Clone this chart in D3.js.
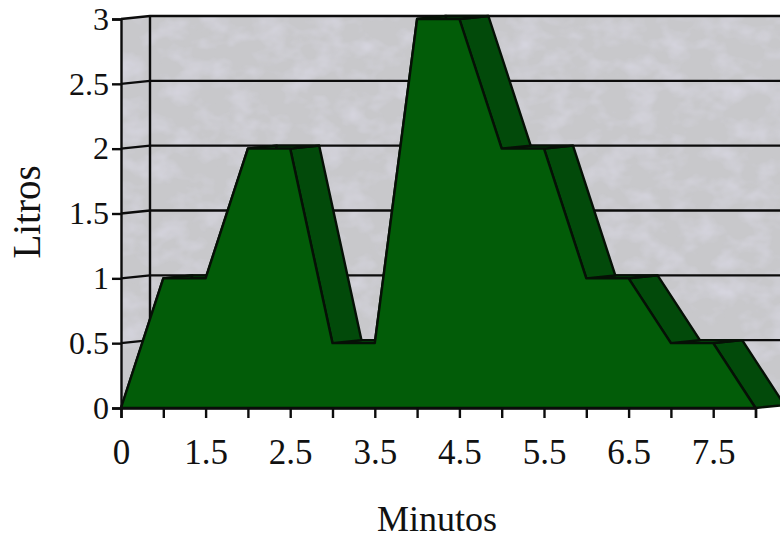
<!DOCTYPE html>
<html>
<head>
<meta charset="utf-8">
<script src="https://cdn.jsdelivr.net/npm/d3@7"></script>
<style>
    html, body { margin: 0; padding: 0; background: #fff; }
    svg { display: block; }
    text { font-family: "Liberation Serif", serif; fill: #111; }
</style>
</head>
<body>
<svg id="chart" width="780" height="539"></svg>
<script>
var minutes = ["0", "1", "1.5", "2", "2.5", "3", "3.5", "4", "4.5", "5", "5.5", "6", "6.5", "7", "7.5", "8"];
var litros = [0, 1, 1, 2, 2, 0.5, 0.5, 3, 3, 2, 2, 1, 1, 0.5, 0.5, 0];
var xLabels = ["0", "1.5", "2.5", "3.5", "4.5", "5.5", "6.5", "7.5"];
var yTicks = [0, 0.5, 1, 1.5, 2, 2.5, 3];

var depthX = 29, depthY = -3; /* offset of the back plane */
var W = 780, H = 539;

var svg = d3.select("#chart");
var x = d3.scalePoint().domain(minutes).range([121, 755.5]);
var y = d3.scaleLinear().domain([0, 3]).range([408, 19]);

/* soft blotches of the scanned wall */
var filter = svg.append("defs").append("filter").attr("id", "paper")
    .attr("x", 0).attr("y", 0).attr("width", 1).attr("height", 1);
filter.append("feTurbulence").attr("type", "fractalNoise")
    .attr("baseFrequency", "0.035 0.05").attr("numOctaves", 3).attr("seed", 4).attr("result", "n");
filter.append("feColorMatrix").attr("in", "n").attr("type", "matrix")
    .attr("values", "0 0 0 0 0.74  0 0 0 0 0.73  0 0 0 0 0.84  1.2 0 0 0 -0.5").attr("result", "c");
filter.append("feComposite").attr("in", "c").attr("in2", "SourceGraphic").attr("operator", "in").attr("result", "m");
filter.append("feMerge").selectAll("feMergeNode").data(["SourceGraphic", "m"]).enter()
    .append("feMergeNode").attr("in", function(d) { return d; });

function poly(points) {
    return "M" + points.map(function(p) { return p[0] + "," + p[1]; }).join("L") + "Z";
}

/* walls */
var walls = svg.append("g").attr("filter", "url(#paper)");
walls.append("path")
    .attr("d", poly([
        [x("0"), y(3)], [x("0") + depthX, y(3) + depthY], [W, y(3) + depthY],
        [W, y(0) + depthY], [x("8") + depthX, y(0) + depthY], [x("8"), y(0)], [x("0"), y(0)]
    ]))
    .attr("fill", "#c8c8cb");

/* gridlines: slanted on the side wall, then flat on the back wall */
svg.append("g").selectAll("path").data(yTicks.filter(function(d) { return d > 0; })).enter()
    .append("path")
    .attr("d", function(d) {
        return "M" + x("0") + "," + y(d) + "L" + (x("0") + depthX) + "," + (y(d) + depthY) + "L" + W + "," + (y(d) + depthY);
    })
    .attr("fill", "none")
    .attr("stroke", "#0c0c0c")
    .attr("stroke-width", 2.4);

svg.append("line")
    .attr("x1", x("0") + depthX).attr("x2", x("0") + depthX)
    .attr("y1", y(3) + depthY).attr("y2", y(0) + depthY)
    .attr("stroke", "#0c0c0c").attr("stroke-width", 2.4);

/* extruded faces of the area, right to left */
var segments = d3.pairs(d3.range(minutes.length)).reverse();
svg.append("g").selectAll("path").data(segments).enter()
    .append("path")
    .attr("d", function(s) {
        var x0 = x(minutes[s[0]]), y0 = y(litros[s[0]]);
        var x1 = x(minutes[s[1]]), y1 = y(litros[s[1]]);
        return poly([[x0, y0], [x1, y1], [x1 + depthX, y1 + depthY], [x0 + depthX, y0 + depthY]]);
    })
    .attr("fill", "#024a0a")
    .attr("stroke", "#061006")
    .attr("stroke-width", 2.4)
    .attr("stroke-linejoin", "round");

/* front face */
var area = d3.area()
    .x(function(d, i) { return x(minutes[i]); })
    .y0(y(0))
    .y1(function(d) { return y(d); });

svg.append("path")
    .attr("d", area(litros))
    .attr("fill", "#025c08")
    .attr("stroke", "#061006")
    .attr("stroke-width", 2.4)
    .attr("stroke-linejoin", "round");

/* axes */
var xAxis = d3.axisBottom(x)
    .tickSize(10)
    .tickPadding(21)
    .tickFormat(function(d) { return xLabels.indexOf(d) >= 0 ? d : ""; });
var yAxis = d3.axisLeft(y)
    .tickValues(yTicks)
    .tickSize(9)
    .tickPadding(3)
    .tickFormat(function(d) { return d; });

var gx = svg.append("g").attr("transform", "translate(0," + y(0) + ")").call(xAxis);
var gy = svg.append("g").attr("transform", "translate(" + x("0") + ",0)").call(yAxis);

[gx, gy].forEach(function(g) {
    g.selectAll("path.domain").attr("stroke", "#0c0c0c").attr("stroke-width", 2.4);
    g.selectAll(".tick line").attr("stroke", "#0c0c0c").attr("stroke-width", 2.4);
    g.selectAll("text").style("font-family", '"Liberation Serif", serif').attr("fill", "#111");
});
gx.selectAll("text").style("font-size", "35px");
gy.selectAll("text").style("font-size", "32px");

svg.append("text")
    .attr("x", 437).attr("y", 531)
    .attr("text-anchor", "middle")
    .style("font-size", "36px")
    .text("Minutos");

svg.append("text")
    .attr("transform", "translate(40,212) rotate(-90)")
    .attr("text-anchor", "middle")
    .style("font-size", "39px")
    .text("Litros");
</script>
</body>
</html>
